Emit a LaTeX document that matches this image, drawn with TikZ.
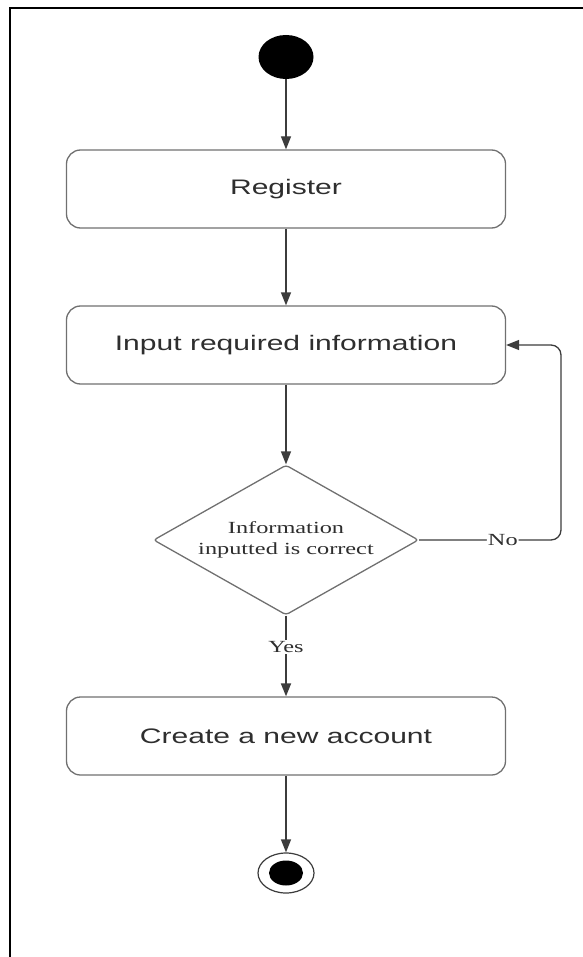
\documentclass[tikz,border=0pt]{standalone}
\usepackage{fontspec}
\setmainfont{Liberation Serif}
\newfontfamily\boxfont[FakeStretch=1.43]{Liberation Sans}
\newfontfamily\decfont[FakeStretch=1.43]{Liberation Serif}
\usetikzlibrary{shapes.geometric,arrows.meta}
\definecolor{boxline}{HTML}{707070}
\definecolor{txt}{HTML}{2E2E2E}
\definecolor{conn}{HTML}{3C3C3C}
\begin{document}
\begin{tikzpicture}[x=1pt,y=-1pt,
  activity/.style={draw=boxline, line width=1.3pt, rounded corners=14pt, minimum width=439pt, minimum height=78pt, inner sep=0pt, text=txt, font=\boxfont\fontsize{21}{25}\selectfont},
  decision/.style={diamond, draw=boxline, line width=1.3pt, rounded corners=3pt, aspect=1.77, minimum width=265pt, minimum height=150pt, inner sep=0pt, text=txt, align=center, font=\decfont\fontsize{17}{21}\selectfont},
  flow/.style={draw=conn, line width=1.3pt, -{Triangle[length=13pt,width=10pt]}},
  lbl/.style={fill=white, inner sep=1pt, text=txt, font=\decfont\fontsize{17}{21}\selectfont}
]
\useasboundingbox (0,0) rectangle (582,957);
% frame
\draw[line width=2.8pt, line cap=rect] (10,957) -- (10,8) -- (582,8);
% nodes
\node[ellipse, fill=black, minimum width=55pt, minimum height=44pt, inner sep=0pt] (start) at (286,57) {};
\node[activity] (reg) at (286,189) {Register};
\node[activity] (inp) at (286,345) {Input required information};
\node[decision] (dec) at (286,540) {Information\\inputted is correct};
\node[activity] (create) at (286,736) {Create a new account};
\node[ellipse, draw=conn, line width=1.2pt, minimum width=56pt, minimum height=40pt, inner sep=0pt] (stop) at (286,873) {};
\node[ellipse, fill=black, minimum width=34pt, minimum height=25pt, inner sep=0pt] (stopin) at (stop.center) {};
\coordinate (loopB) at (561,540);
\coordinate (loopT) at (561,345);
% connectors
\draw[flow] (start) -- (reg);
\draw[flow] (reg) -- (inp);
\draw[flow] (inp) -- (dec);
\draw[flow, rounded corners=10pt] (dec.east) -- node[lbl, pos=0.59] {No} (loopB) -- (loopT) -- (inp.east);
\draw[flow, line width=1.8pt] (dec.south) -- node[lbl, pos=0.39] {Yes} (create.north);
\draw[flow] (create) -- (stop);
\end{tikzpicture}
\end{document}
